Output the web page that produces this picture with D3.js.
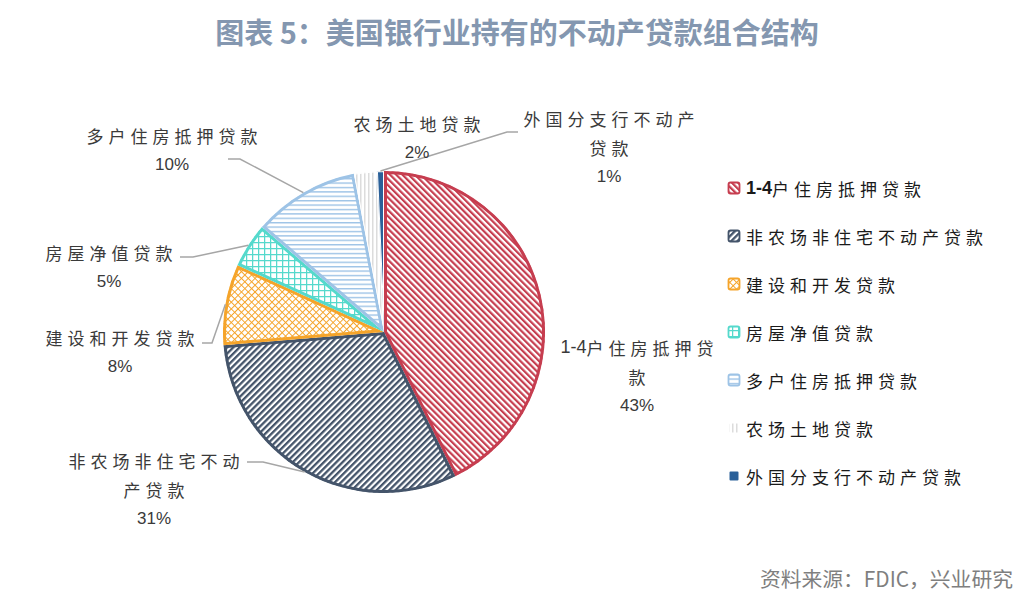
<!DOCTYPE html>
<html><head><meta charset="utf-8">
<script src="https://cdn.jsdelivr.net/npm/d3@7"></script>
<style>body{margin:0;background:#fff;} svg{display:block}</style>
</head><body><svg id="chart" width="1036" height="601"></svg>
<script>
// ---- data ----
const categories = ["1-4户住房抵押贷款","非农场非住宅不动产贷款","建设和开发贷款","房屋净值贷款","多户住房抵押贷款","农场土地贷款","外国分支行不动产贷款"];
const values = [42.7, 31.0, 8.1, 4.5, 10.7, 2.3, 0.7];
const percentLabels = ["43%","31%","8%","5%","10%","2%","1%"];
const labelLines = [["1-4户住房抵押贷","款"],["非农场非住宅不动","产贷款"],["建设和开发贷款"],["房屋净值贷款"],["多户住房抵押贷款"],["农场土地贷款"],["外国分支行不动产","贷款"]];
const titleText = "图表 5：美国银行业持有的不动产贷款组合结构";
const sourceText = "资料来源：FDIC，兴业研究";

// ---- style / layout ----
const colors  = ["#C63D4F","#44546A","#F5A42A","#55D9CC","#9DC3E6","#DCDCDC","#2A6099"];
const borders = ["#C63D4F","#44546A","#F5A42A","#55D9CC","#9DC3E6","#FFFFFF","#FFFFFF"];
const borderW = [6,6,6,6,6,2,2];
const labelPos = [[637,347],[154,460],[120,337],[109,252],[172,135],[417,123],[609,118]];
const leaderStart = [null,[[247,462],[263,462]],[[202,343],[212,343]],[[180,257],[193,257]],[[228,159],[240,159]],null,[[518,132],[507,132]]];
const cx = 384, cy = 332, R = 161;
const LS = 5;

const svg = d3.select("#chart");
const defs = svg.append("defs");

function mkPattern(id, size, rot, draw) {
  const p = defs.append("pattern").attr("id", id).attr("patternUnits","userSpaceOnUse")
    .attr("width", size).attr("height", size);
  if (rot) p.attr("patternTransform", `rotate(${rot})`);
  p.append("rect").attr("width", size).attr("height", size).attr("fill", "#fff");
  draw(p, size);
}
mkPattern("p0", 4.4, -45, (p,s)=>p.append("rect").attr("width",2.2).attr("height",s).attr("fill",colors[0]));
mkPattern("p1", 4.4, 45, (p,s)=>p.append("rect").attr("width",2.3).attr("height",s).attr("fill",colors[1]));
mkPattern("p2", 4.8, 45, (p,s)=>p.append("path").attr("d",`M0,0.5H${s}M0.5,0V${s}`).attr("stroke",colors[2]).attr("stroke-width",1));
mkPattern("p3", 6, 0, (p,s)=>p.append("path").attr("d",`M0,0.6H${s}M0.6,0V${s}`).attr("stroke",colors[3]).attr("stroke-width",1.3));
mkPattern("p4", 4.4, 0, (p,s)=>p.append("rect").attr("width",s).attr("height",1.4).attr("fill",colors[4]));
mkPattern("p5", 4, 0, (p,s)=>p.append("rect").attr("width",1.5).attr("height",s).attr("fill",colors[5]));
defs.append("pattern").attr("id","p6").attr("patternUnits","userSpaceOnUse").attr("width",4).attr("height",4)
  .append("rect").attr("width",4).attr("height",4).attr("fill",colors[6]);

// ---- title ----
svg.append("text").attr("x", 517).attr("y", 31).attr("text-anchor","middle").attr("dominant-baseline","central")
  .attr("font-family","'Noto Sans CJK SC', sans-serif").attr("font-weight","bold").attr("font-size",29)
  .attr("fill","#8497B0").text(titleText);

// ---- source ----
svg.append("text").attr("x", 1013).attr("y", 578).attr("text-anchor","end").attr("dominant-baseline","central")
  .attr("font-family","'Noto Sans CJK SC', sans-serif").attr("font-size",20.8)
  .attr("fill","#7F7F7F").text(sourceText);

// ---- pie ----
const data = categories.map((c,i)=>({c, v: values[i], i}));
const pie = d3.pie().sort(null).value(d=>d.v);
const arcs = pie(data);
const arc = d3.arc().innerRadius(0).outerRadius(R);
const edgeArc = d3.arc().innerRadius(R).outerRadius(R);
const g = svg.append("g").attr("transform",`translate(${cx},${cy})`);

arcs.forEach((d,i)=>{
  defs.append("clipPath").attr("id","clip"+i).append("path").attr("d", arc(d));
});
g.selectAll("path.slice").data(arcs).join("path").attr("class","slice")
  .attr("d", arc)
  .attr("fill", (d,i)=>`url(#p${i})`)
  .attr("stroke", (d,i)=>borders[i])
  .attr("stroke-width", (d,i)=>borderW[i])
  .attr("stroke-linejoin","round")
  .attr("clip-path", (d,i)=>`url(#clip${i})`);

// ---- leader lines ----
arcs.forEach((d,i)=>{
  if (!leaderStart[i]) return;
  const e = edgeArc.centroid(d);
  const pts = leaderStart[i].concat([[cx+e[0], cy+e[1]]]);
  svg.append("path").attr("d", d3.line()(pts)).attr("fill","none")
    .attr("stroke","#A6A6A6").attr("stroke-width",1.5);
});

// ---- text helper ----
function addCJK(parent, str, x, y, anchor, size, fill, latinBold) {
  const t = parent.append("text").attr("x", anchor==="middle" ? x + LS/2 : x).attr("y", y)
    .attr("text-anchor", anchor).attr("dominant-baseline","central")
    .attr("font-family","'Noto Sans CJK SC', sans-serif").attr("font-size", size).attr("fill", fill);
  const m = str.match(/^[\x00-\x7F]+/);
  let rest = str;
  if (m) {
    t.append("tspan").attr("font-family","'Liberation Sans', Arial, sans-serif")
      .attr("font-size", size+1).attr("font-weight", latinBold ? "bold" : "normal")
      .style("letter-spacing","0px").text(m[0]);
    rest = str.slice(m[0].length);
  }
  t.append("tspan").style("letter-spacing", LS+"px").text(rest);
  return t;
}

// ---- slice labels ----
const lab = svg.append("g");
arcs.forEach((d,i)=>{
  const [x,y] = labelPos[i];
  const lines = labelLines[i];
  lines.forEach((s,k)=> addCJK(lab, s, x, y + k*29, "middle", 17, "#3A3A3A", false));
  lab.append("text").attr("x", x).attr("y", y + lines.length*29).attr("text-anchor","middle")
    .attr("dominant-baseline","central").attr("font-family","'Liberation Sans', Arial, sans-serif")
    .attr("font-size",17).attr("fill","#3A3A3A").text(percentLabels[i]);
});

// ---- legend ----
const leg = svg.append("g");
categories.forEach((c,i)=>{
  const y = 188 + i*48;
  leg.append("rect").attr("x",728.5).attr("y",y-5.5).attr("width",11).attr("height",11).attr("rx",2)
    .attr("fill",`url(#p${i})`).attr("stroke",borders[i]).attr("stroke-width",i>=5?2:1.8);
  addCJK(leg, c, 746, y, "start", 17, "#1A1A1A", true);
});
</script></body></html>
